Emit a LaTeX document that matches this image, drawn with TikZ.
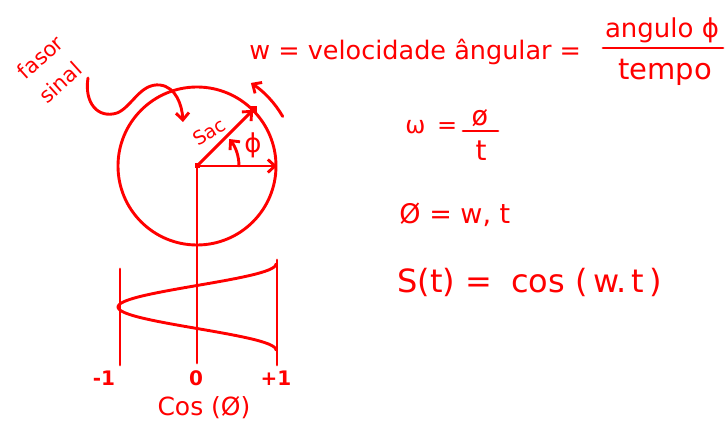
\documentclass[tikz,border=0pt]{standalone}
\usepackage{fontspec}
\setmainfont{DejaVu Sans}
\usetikzlibrary{arrows.meta,positioning,calc}

\begin{document}
\begin{tikzpicture}[
  x=1pt, y=1pt, color=red, line width=2.9pt, line cap=round, line join=round,
  hand/.style={font=\fontsize{24}{26}\selectfont, inner sep=0pt},
  big/.style={font=\fontsize{27}{29}\selectfont, inner sep=0pt},
  small/.style={font=\fontsize{19}{21}\selectfont, inner sep=0pt},
  vec/.style={-{Straight Barb[length=7pt,width=13pt]}},
  dot/.style={fill=red, inner sep=0pt, minimum size=7pt}
]
  \useasboundingbox (0,0) rectangle (725,421);

  % phasor circle
  \coordinate (o) at (197,255);
  \coordinate (p) at (253,311);
  \coordinate (e) at (277,255);
  \coordinate (b0) at (197,58);
  \draw (o) circle[radius=79];
  \node[dot, minimum size=5pt] at (o) {};
  \draw[vec] (o) -- (p);
  \node[dot] at (p) {};
  \draw[vec] (o) -- (e);
  \draw (o) -- (b0);
  \draw[vec] ($(o)+(42,0)$) arc[start angle=0, end angle=40, radius=42];
  \draw[vec] ($(o)+(30:99)$) arc[start angle=30, end angle=57, radius=99];
  \node[hand, font=\fontsize{26}{28}\selectfont] (phi) at (253,276) {ϕ};
  \node[small, rotate=32] (sac) at (209,289) {Sac};

  % label with wiggly arrow
  \node[small, font=\fontsize{21}{32}\selectfont, rotate=42, align=left] (fas) at (51,352) {fasor\\sinal};
  \coordinate (s) at (88,343);
  \coordinate (t) at (183,299);
  \draw[vec] (s) .. controls (84,318) and (98,302) .. (117,308)
    .. controls (132,314) and (140,338) .. (160,336)
    .. controls (176,334) and (182,316) .. (t);

  % cosine projection
  \coordinate (l1) at (120,152);
  \coordinate (l2) at (120,56);
  \coordinate (r1) at (277,161);
  \coordinate (r2) at (277,56);
  \draw (l1) -- (l2);
  \draw (r1) -- (r2);
  \draw plot[domain=0:360, samples=60, smooth] ({197+79*cos(\x)}, {157-\x/360*86});
  \node[small, font=\fontsize{20}{22}\selectfont\bfseries] (m1) at (104,43) {-1};
  \node[small, font=\fontsize{20}{22}\selectfont\bfseries] (z0) at (196,43) {0};
  \node[small, font=\fontsize{20}{22}\selectfont\bfseries] (p1) at (276,43) {+1};
  \node[hand, font=\fontsize{25}{27}\selectfont] (cosl) at (204,13) {Cos (Ø)};

  % angular velocity
  \node[hand, font=\fontsize{25.5}{28}\selectfont, anchor=west] (wv) at (248,369) {w = velocidade ângular =};
  \node[hand, font=\fontsize{26}{28}\selectfont] (ang) at (662,391) {angulo ϕ};
  \node[hand, font=\fontsize{29}{31}\selectfont] (tem) at (665,349) {tempo};
  \coordinate (f1) at (603,373);
  \coordinate (f2) at (723,373);
  \draw (f1) -- (f2);

  % equations
  \node[hand, anchor=west] (w1) at (404,294) {ω\, =};
  \node[hand, font=\fontsize{27}{29}\selectfont] (n1) at (480,303) {ø};
  \node[hand, font=\fontsize{28}{30}\selectfont] (d1) at (481,270) {t};
  \coordinate (g1) at (463,290);
  \coordinate (g2) at (498,290);
  \draw (g1) -- (g2);
  \node[big, anchor=west] (eq2) at (398,206) {Ø = w, t};
  \node[big, font=\fontsize{32}{34}\selectfont, anchor=west] (eq3) at (396,139) {S(t) =\; cos (\,w.\,t\,)};
\end{tikzpicture}
\end{document}
